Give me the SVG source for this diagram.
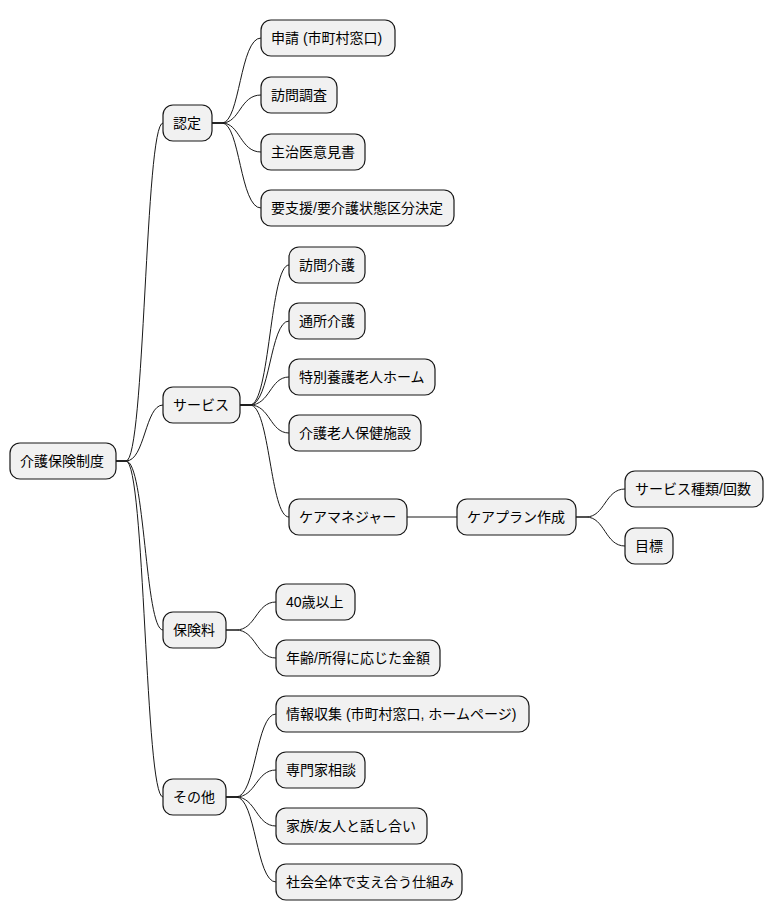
<svg xmlns="http://www.w3.org/2000/svg" width="773" height="921" viewBox="0 0 773 921">
<style>
.n rect{fill:#f1f1f1;stroke:#181818;stroke-width:1.2}
.n text{font-family:"Liberation Sans","Noto Sans CJK JP",sans-serif;font-size:14px;fill:#000;dominant-baseline:central}
#c path{fill:none;stroke:#181818;stroke-width:1}
</style>
<rect width="773" height="921" fill="#fff"/>
<g id="c">
<path d="M116,461 h10 C145,461 145,123 163,123"/>
<path d="M116,461 h10 C145,461 145,405 163,405"/>
<path d="M116,461 h10 C145,461 145,630 163,630"/>
<path d="M116,461 h10 C145,461 145,797 163,797"/>
<path d="M212,123 h10 C240,123 240,38 261,38"/>
<path d="M212,123 h10 C240,123 240,95 261,95"/>
<path d="M212,123 h10 C240,123 240,152 261,152"/>
<path d="M212,123 h10 C240,123 240,208 261,208"/>
<path d="M240,405 h10 C270,405 270,265 289,265"/>
<path d="M240,405 h10 C270,405 270,321 289,321"/>
<path d="M240,405 h10 C270,405 270,377 289,377"/>
<path d="M240,405 h10 C270,405 270,433 289,433"/>
<path d="M240,405 h10 C270,405 270,517 289,517"/>
<path d="M407,517 H457"/>
<path d="M576,517 h10 C605,517 605,489 625,489"/>
<path d="M576,517 h10 C605,517 605,546 625,546"/>
<path d="M226,630 h10 C256,630 256,602 276,602"/>
<path d="M226,630 h10 C256,630 256,658 276,658"/>
<path d="M226,797 h10 C256,797 256,714 276,714"/>
<path d="M226,797 h10 C256,797 256,770 276,770"/>
<path d="M226,797 h10 C256,797 256,826 276,826"/>
<path d="M226,797 h10 C256,797 256,882 276,882"/>
</g>
<g id="root" class="n"><rect x="10" y="443" width="106" height="36" rx="10"/><text x="20" y="461">介護保険制度</text></g>
<g id="n1" class="n"><rect x="163" y="105" width="49" height="36" rx="10"/><text x="173" y="123">認定</text></g>
<g id="n2" class="n"><rect x="163" y="387" width="77" height="36" rx="10"/><text x="173" y="405">サービス</text></g>
<g id="n3" class="n"><rect x="163" y="612" width="63" height="36" rx="10"/><text x="173" y="630">保険料</text></g>
<g id="n4" class="n"><rect x="163" y="779" width="63" height="36" rx="10"/><text x="173" y="797">その他</text></g>
<g id="n11" class="n"><rect x="261" y="20" width="134" height="36" rx="10"/><text x="271" y="38">申請 (市町村窓口)</text></g>
<g id="n12" class="n"><rect x="261" y="77" width="76" height="36" rx="10"/><text x="271" y="95">訪問調査</text></g>
<g id="n13" class="n"><rect x="261" y="134" width="104" height="36" rx="10"/><text x="271" y="152">主治医意見書</text></g>
<g id="n14" class="n"><rect x="261" y="190" width="193" height="36" rx="10"/><text x="271" y="208">要支援/要介護状態区分決定</text></g>
<g id="n21" class="n"><rect x="289" y="247" width="76" height="36" rx="10"/><text x="299" y="265">訪問介護</text></g>
<g id="n22" class="n"><rect x="289" y="303" width="76" height="36" rx="10"/><text x="299" y="321">通所介護</text></g>
<g id="n23" class="n"><rect x="289" y="359" width="146" height="36" rx="10"/><text x="299" y="377">特別養護老人ホーム</text></g>
<g id="n24" class="n"><rect x="289" y="415" width="132" height="36" rx="10"/><text x="299" y="433">介護老人保健施設</text></g>
<g id="n25" class="n"><rect x="289" y="499" width="118" height="36" rx="10"/><text x="299" y="517">ケアマネジャー</text></g>
<g id="n251" class="n"><rect x="457" y="499" width="119" height="36" rx="10"/><text x="467" y="517">ケアプラン作成</text></g>
<g id="n2511" class="n"><rect x="625" y="471" width="138" height="36" rx="10"/><text x="635" y="489">サービス種類/回数</text></g>
<g id="n2512" class="n"><rect x="625" y="528" width="48" height="36" rx="10"/><text x="635" y="546">目標</text></g>
<g id="n31" class="n"><rect x="276" y="584" width="79" height="36" rx="10"/><text x="286" y="602">40歳以上</text></g>
<g id="n32" class="n"><rect x="276" y="640" width="164" height="36" rx="10"/><text x="286" y="658">年齢/所得に応じた金額</text></g>
<g id="n41" class="n"><rect x="276" y="696" width="253" height="36" rx="10"/><text x="286" y="714">情報収集 (市町村窓口, ホームページ)</text></g>
<g id="n42" class="n"><rect x="276" y="752" width="89" height="36" rx="10"/><text x="286" y="770">専門家相談</text></g>
<g id="n43" class="n"><rect x="276" y="808" width="151" height="36" rx="10"/><text x="286" y="826">家族/友人と話し合い</text></g>
<g id="n44" class="n"><rect x="276" y="864" width="186" height="36" rx="10"/><text x="286" y="882">社会全体で支え合う仕組み</text></g>
</svg>
